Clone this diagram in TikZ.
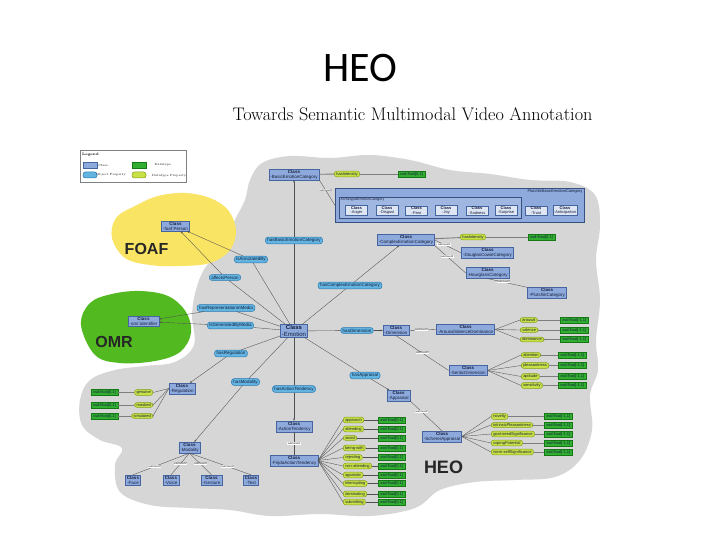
\documentclass[tikz,border=0pt]{standalone}
\usepackage{fontspec}
\newfontfamily\lsans{Liberation Sans}
\newfontfamily\carlito{Carlito}
\usetikzlibrary{arrows.meta}
\definecolor{cloudgray}{RGB}{214,214,214}
\definecolor{foafyel}{RGB}{250,228,100}
\definecolor{omrgreen}{RGB}{82,186,32}
\definecolor{clsfill}{RGB}{142,170,220}
\definecolor{clsdraw}{RGB}{70,100,160}
\definecolor{clsinner}{RGB}{222,230,244}
\definecolor{opfill}{RGB}{100,180,225}
\definecolor{opdraw}{RGB}{40,120,175}
\definecolor{dpfill}{RGB}{200,225,70}
\definecolor{dpdraw}{RGB}{130,160,20}
\definecolor{dtfill}{RGB}{50,175,50}
\definecolor{dtdraw}{RGB}{20,120,20}
\definecolor{lnclr}{RGB}{80,80,80}
\definecolor{thkclr}{RGB}{125,125,125}
\definecolor{txtclr}{RGB}{20,30,60}
\tikzset{
  clsbox/.style={draw=clsdraw, fill=clsfill, line width=0.5pt, inner xsep=1.5pt, inner ysep=0.8pt, align=center, text=txtclr, font=\lsans\fontsize{4.5}{4.9}\selectfont},
  innercls/.style={draw=clsdraw, fill=clsinner, line width=0.4pt, inner xsep=1pt, inner ysep=0.8pt, align=center, text=txtclr, minimum width=22pt, font=\lsans\fontsize{4}{4.4}\selectfont},
  opbox/.style={draw=opdraw, fill=opfill, line width=0.5pt, rounded corners=2.5pt, inner xsep=2pt, inner ysep=1.2pt, text=txtclr, font=\lsans\fontsize{4.5}{4.9}\selectfont},
  dpbox/.style={draw=dpdraw, fill=dpfill, line width=0.5pt, rounded corners=2.5pt, inner xsep=2pt, inner ysep=1pt, text=txtclr, font=\lsans\fontsize{4}{4.4}\selectfont},
  dtbox/.style={draw=dtdraw, fill=dtfill, line width=0.5pt, inner xsep=2pt, inner ysep=1pt, text=txtclr, font=\lsans\fontsize{4}{4.4}\selectfont},
  sublbl/.style={fill=white, inner sep=0.4pt, font=\lsans\fontsize{2.4}{2.6}\selectfont},
  lnk/.style={draw=lnclr, line width=0.35pt},
  dtlnk/.style={draw=thkclr, line width=0.9pt},
  tip/.style={-{Stealth[length=2.4pt,width=1.8pt]}},
  bigtxt/.style={font=\lsans\bfseries\fontsize{16}{18}\selectfont, text=black!85}
}
\begin{document}
\begin{tikzpicture}[x=1pt,y=-1pt]
\useasboundingbox (0,0) rectangle (720,540);
\fill[white] (0,0) rectangle (720,540);

% clouds
\fill[cloudgray] plot[smooth cycle, tension=0.6] coordinates {(250,180) (262,163) (290,156) (330,158) (370,155) (410,160) (450,170) (490,174) (530,180) (570,182) (595,195) (600,225) (596,260) (600,300) (596,340) (598,370) (590,395) (592,430) (580,460) (555,477) (515,480) (475,482) (440,490) (415,508) (370,516) (320,514) (270,516) (230,510) (190,508) (150,505) (120,492) (115,465) (122,448) (100,440) (82,425) (80,400) (90,380) (115,370) (145,366) (175,362) (194,345) (192,315) (196,290) (205,268) (225,245) (235,220) (245,200)};
\fill[foafyel] plot[smooth cycle, tension=0.6] coordinates {(112,238) (116,218) (135,206) (158,196) (185,193) (210,198) (228,210) (236,230) (230,250) (210,263) (180,266) (150,265) (125,258)};
\fill[omrgreen] plot[smooth cycle, tension=0.6] coordinates {(81,325) (90,303) (112,294) (140,291) (168,296) (186,312) (191,333) (180,352) (155,361) (120,363) (95,355)};

% titles
\node[font=\carlito\fontsize{42}{46}\selectfont] (title) at (360,68) {HEO};
\node[font=\fontsize{18.2}{21}\selectfont] (subtitle) at (412.5,114) {Towards Semantic Multimodal Video Annotation};
\node[bigtxt] (foaftxt) at (146.5,248.5) {FOAF};
\node[bigtxt] (omrtxt) at (114,341.5) {OMR};
\node[bigtxt, font=\lsans\bfseries\fontsize{18}{20}\selectfont] (heotxt) at (443.5,467.5) {HEO};

% legend
\node[draw=gray, fill=white, line width=0.4pt, minimum width=106pt, minimum height=32pt, inner sep=0, anchor=north west] (legend) at (80,150) {};
\node[anchor=north west, inner sep=0, font=\bfseries\fontsize{3.5}{4}\selectfont] (lgtitle) at (82,152.5) {Legend};
\node[clsbox, minimum width=14pt, minimum height=6pt, inner sep=0] (lgcls) at (90,165) {};
\node[dtbox, minimum width=14pt, minimum height=6pt, inner sep=0] (lgdt) at (139,165) {};
\node[opbox, minimum width=14pt, minimum height=6pt, inner sep=0] (lgop) at (90,175) {};
\node[dpbox, minimum width=14pt, minimum height=6pt, inner sep=0] (lgdp) at (139,175) {};
\node[font=\fontsize{3}{3.4}\selectfont] (lgclst) at (103,165) {Class};
\node[font=\fontsize{3}{3.4}\selectfont] (lgdtt) at (163,165) {Datatype};
\node[font=\fontsize{3}{3.4}\selectfont] (lgopt) at (111,175) {Object Property};
\node[font=\fontsize{3}{3.4}\selectfont] (lgdpt) at (169,175.5) {Datatype Property};

% Plutchik / Archetypal boxes
\node[draw=clsdraw!80!black, fill=clsfill, line width=0.7pt, minimum width=249pt, minimum height=34pt, inner sep=0, anchor=north west] (plutbox) at (335,188) {};
\node[draw=clsdraw!80!black, fill=clsfill!85!white, line width=0.6pt, minimum width=182pt, minimum height=21pt, inner sep=0, anchor=north west] (archbox) at (339,197) {};
\node[anchor=north east, inner sep=0.5pt, text=txtclr, font=\lsans\fontsize{4}{4.4}\selectfont] (pluttitle) at (583,189) {PlutchikBasicEmotionCategory};
\node[anchor=north west, inner sep=0.5pt, text=txtclr, font=\lsans\fontsize{3.5}{3.9}\selectfont] (archtitle) at (340,197.5) {ArchetypalEmotionCategory};
\node[innercls] (anger) at (356.5,210.5) {\textbf{Class}\\-Anger};
\node[innercls] (disgust) at (387,210.5) {\textbf{Class}\\-Disgust};
\node[innercls] (fear) at (416.5,210.5) {\textbf{Class}\\-Fear};
\node[innercls] (joy) at (446,210.5) {\textbf{Class}\\-Joy};
\node[innercls] (sadness) at (477,210.5) {\textbf{Class}\\-Sadness};
\node[innercls] (surprise) at (506,210.5) {\textbf{Class}\\-Surprise};
\node[innercls] (trust) at (536,210.5) {\textbf{Class}\\-Trust};
\node[innercls] (anticip) at (565,210.5) {\textbf{Class}\\-Anticipation};

% classes
\node[clsbox] (foafperson) at (175.5,226) {\textbf{Class}\\-foaf:Person};
\node[clsbox] (omrid) at (143.5,321.5) {\textbf{Class}\\-omr:identifier};
\node[clsbox] (basicec) at (294,174.5) {\textbf{Class}\\-BasicEmotionCategory};
\node[clsbox] (complexec) at (406,240) {\textbf{Class}\\-ComplexEmotionCategory};
\node[clsbox] (douglas) at (487.5,253) {\textbf{Class}\\-DouglasCowieCategory};
\node[clsbox] (hourglass) at (487.5,273) {\textbf{Class}\\-HourglassCategory};
\node[clsbox] (plutcat) at (547,293) {\textbf{Class}\\-PlutchikCategory};
\node[clsbox, font=\lsans\fontsize{6}{6.6}\selectfont] (emotion) at (294,331) {\textbf{Class}\\-Emotion};
\node[clsbox] (dimension) at (396,330.5) {\textbf{Class}\\-Dimension};
\node[clsbox] (avd) at (465.5,329.5) {\textbf{Class}\\-ArousalValenceDominance};
\node[clsbox] (sentic) at (468,370.5) {\textbf{Class}\\-SenticDimension};
\node[clsbox] (appraisal) at (398.5,395.5) {\textbf{Class}\\-Appraisal};
\node[clsbox] (scherer) at (442,436.5) {\textbf{Class}\\-SchererAppraisal};
\node[clsbox] (regulation) at (182,388.5) {\textbf{Class}\\-Regulation};
\node[clsbox] (modality) at (189.5,447.5) {\textbf{Class}\\-Modality};
\node[clsbox] (face) at (133,480) {\textbf{Class}\\-Face};
\node[clsbox] (voice) at (171,480) {\textbf{Class}\\-Voice};
\node[clsbox] (gesture) at (211.5,480) {\textbf{Class}\\-Gesture};
\node[clsbox] (textcls) at (251,480) {\textbf{Class}\\-Text};
\node[clsbox] (actiont) at (294,426.5) {\textbf{Class}\\-ActionTendency};
\node[clsbox] (frijda) at (294,460.5) {\textbf{Class}\\-FrijdaActionTendency};

% object properties
\node[opbox] (hasbasic) at (294,240.5) {hasBasicEmotionCategory};
\node[opbox] (isannot) at (251,259.5) {isAnnotatedBy};
\node[opbox] (affects) at (225,277.5) {affectsPerson};
\node[opbox] (hascomplex) at (350,285.5) {hasComplexEmotionCategory};
\node[opbox] (hasrepr) at (226,308) {hasRepresentationInMedia};
\node[opbox] (isgen) at (230.5,325.5) {isGeneratedByMedia};
\node[opbox] (hasreg) at (231,353.5) {hasRegulation};
\node[opbox] (hasmod) at (245.5,382) {hasModality};
\node[opbox] (hasact) at (294,389) {hasActionTendency};
\node[opbox] (hasdim) at (357,330.5) {hasDimension};
\node[opbox] (hasappr) at (365,375.5) {hasAppraisal};

% intensity
\node[dpbox] (hasint1) at (347,174) {hasIntensity};
\node[dtbox] (dtint1) at (411.5,174) {xsd:float[0,1]};
\node[dpbox] (hasint2) at (473,237) {hasIntensity};
\node[dtbox] (dtint2) at (541.5,237) {xsd:float[0,1]};
\draw[dtlnk] (basicec) -- (hasint1);
\draw[dtlnk] (hasint1) -- (dtint1);
\draw[dtlnk] (complexec) -- (hasint2);
\draw[dtlnk] (hasint2) -- (dtint2);

% object property connectors
\draw[lnk] (emotion) -- (hasbasic);
\draw[lnk,tip] (hasbasic) -- (basicec);
\draw[lnk] (emotion) -- (isannot);
\draw[lnk,tip] (isannot) -- (foafperson);
\draw[lnk] (emotion) -- (affects);
\draw[lnk,tip] (affects) -- (foafperson);
\draw[lnk] (emotion) -- (hascomplex);
\draw[lnk,tip] (hascomplex) -- (complexec);
\draw[lnk] (emotion) -- (hasrepr);
\draw[lnk,tip] (hasrepr) -- (omrid);
\draw[lnk] (emotion) -- (isgen);
\draw[lnk,tip] (isgen) -- (omrid);
\draw[lnk] (emotion) -- (hasreg);
\draw[lnk,tip] (hasreg) -- (regulation);
\draw[lnk] (emotion) -- (hasmod);
\draw[lnk,tip] (hasmod) -- (modality);
\draw[lnk] (emotion) -- (hasact);
\draw[lnk,tip] (hasact) -- (actiont);
\draw[lnk] (emotion) -- (hasdim);
\draw[lnk,tip] (hasdim) -- (dimension);
\draw[lnk] (emotion) -- (hasappr);
\draw[lnk,tip] (hasappr) -- (appraisal);

% subClassOf
\draw[lnk] (basicec.south east) -- node[sublbl, pos=0.4] {subClassOf} (plutbox.west);
\draw[lnk] (complexec.east) -- node[sublbl, pos=0.35] {subClassOf} (douglas.west);
\draw[lnk] (complexec.south east) -- node[sublbl, pos=0.4] {subClassOf} (hourglass.west);
\draw[lnk] (hourglass.south) -- node[sublbl, pos=0.4] {subClassOf} (plutcat.north west);
\draw[lnk] (dimension.east) -- node[sublbl, pos=0.45] {subClassOf} (avd.west);
\draw[lnk] (dimension.south) -- node[sublbl, pos=0.5] {subClassOf} (sentic.west);
\draw[lnk] (appraisal.south east) -- node[sublbl, pos=0.35] {subClassOf} (scherer.north);
\draw[lnk] (actiont) -- node[sublbl, pos=0.5] {subClassOf} (frijda);
\draw[lnk] (modality.south) -- node[sublbl, pos=0.62] {subClassOf} (face.north);
\draw[lnk] (modality.south) -- node[sublbl, pos=0.5] {subClassOf} (voice.north);
\draw[lnk] (modality.south) -- node[sublbl, pos=0.5] {subClassOf} (gesture.north);
\draw[lnk] (modality.south) -- node[sublbl, pos=0.62] {subClassOf} (textcls.north);

% AVD
\foreach \n/\t/\y in {ar/arousal/320, va/valence/330, do/dominance/339.5} {
  \node[dpbox, anchor=west] (p\n) at (520,\y) {\t};
  \node[dtbox, anchor=west] (d\n) at (560,\y) {xsd:float[-1,1]};
  \draw[lnk] (avd.east) -- (p\n.west);
  \draw[dtlnk] (p\n) -- (d\n);
}
% Sentic
\foreach \n/\t/\y in {at/attention/355, pl/pleasantness/365.5, ap/aptitude/376.5, se/sensitivity/385.5} {
  \node[dpbox, anchor=west] (p\n) at (521,\y) {\t};
  \node[dtbox, anchor=west] (d\n) at (558,\y) {xsd:float[-1,1]};
  \draw[lnk] (sentic.east) -- (p\n.west);
  \draw[dtlnk] (p\n) -- (d\n);
}
% Scherer
\foreach \n/\t/\y in {no/novelty/416.5, ip/intrinsicPleasantness/425, gn/goal-needSignificance/434, cp/copingPotential/443, ns/norm-selfSignificance/452} {
  \node[dpbox, anchor=west] (p\n) at (491,\y) {\t};
  \node[dtbox, anchor=west] (d\n) at (544,\y) {xsd:float[-1,1]};
  \draw[lnk] (scherer.east) -- (p\n.west);
  \draw[dtlnk] (p\n) -- (d\n);
}
% Regulation
\foreach \n/\t/\y in {ge/genuine/392.5, ma/masked/405, si/simulated/416} {
  \node[dpbox, anchor=east] (p\n) at (153,\y) {\t};
  \node[dtbox, anchor=east] (d\n) at (118,\y) {xsd:float[0,1]};
  \draw[lnk] (regulation.west) -- (p\n.east);
  \draw[dtlnk] (p\n) -- (d\n);
}
% Frijda
\foreach \n/\t/\y in {fa/approach/420, fb/attending/429, fc/avoid/438, fd/being-with/448, fe/rejecting/457.5, ff/non-attending/466, fg/agonistic/475, fh/interrupting/483.5, fi/dominating/494, fj/submitting/502} {
  \node[dpbox, anchor=west] (p\n) at (343,\y) {\t};
  \node[dtbox, anchor=west] (d\n) at (378,\y) {xsd:float[0,1]};
  \draw[lnk] (frijda.east) -- (p\n.west);
  \draw[lnk] (p\n) -- (d\n);
}
\end{tikzpicture}
\end{document}
